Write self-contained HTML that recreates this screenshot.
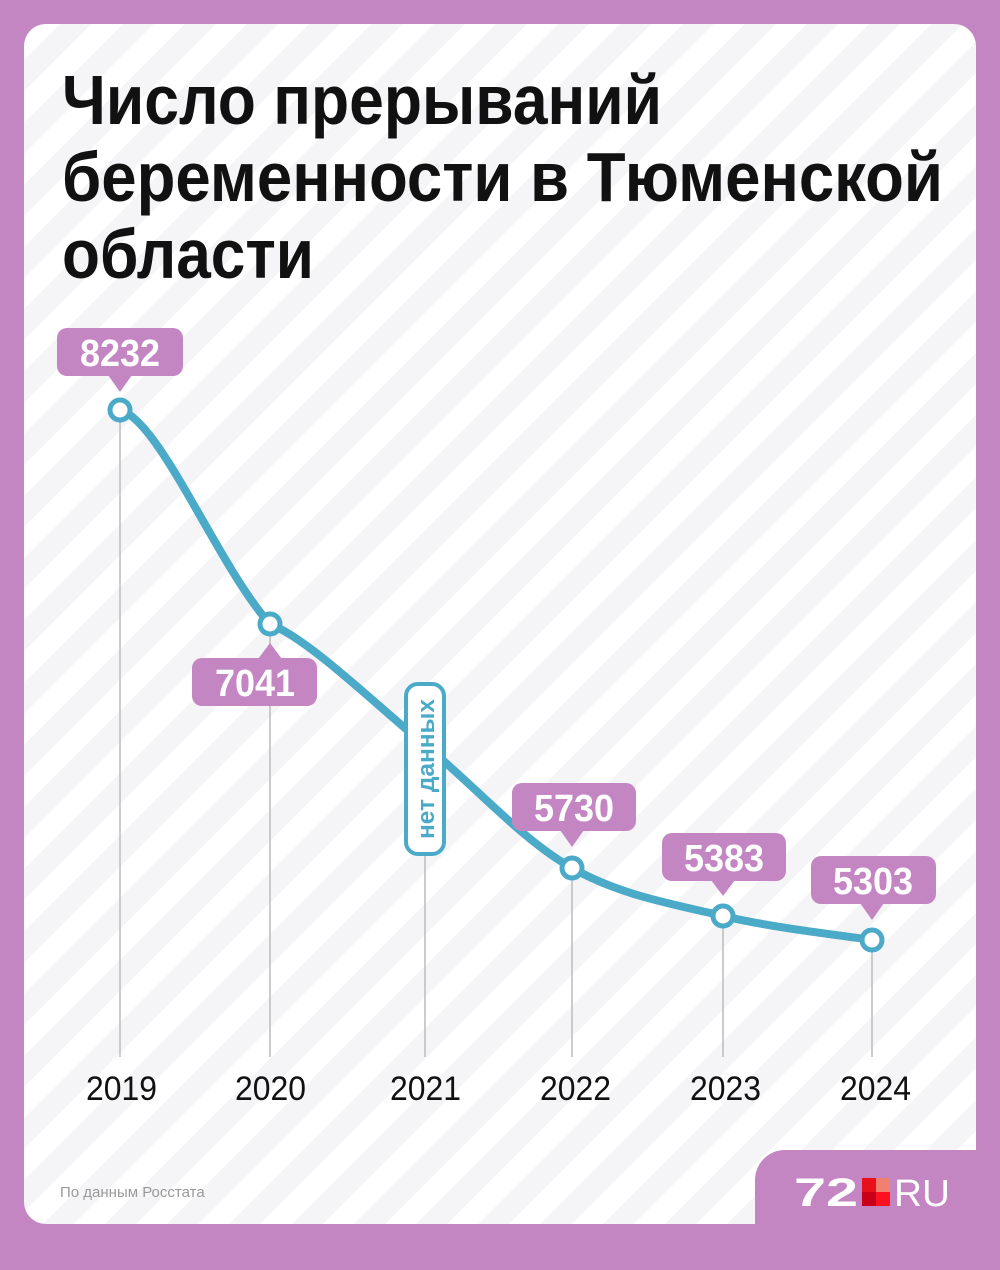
<!DOCTYPE html>
<html><head><meta charset="utf-8"><style>
html,body{margin:0;padding:0}
body{width:1000px;height:1250px;background:#c386c3;position:relative;overflow:hidden;font-family:"Liberation Sans",sans-serif}
.card{position:absolute;left:24px;top:24px;width:952px;height:1200px;border-radius:22px;background:repeating-linear-gradient(-45deg,#ffffff 0 22px,#f5f4f7 22px 44px)}
.tab{position:absolute;left:755px;top:1150px;width:300px;height:120px;background:#c386c3;border-radius:30px 0 0 0}
.src{position:absolute;left:60px;top:1184px;font-size:15px;color:#999}
</style></head><body>
<div class="card"></div>
<div class="tab"></div>
<svg width="1000" height="1250" style="position:absolute;left:0;top:0">
<g fill="#111" font-family="Liberation Sans,sans-serif" font-weight="bold" font-size="70" lengthAdjust="spacingAndGlyphs">
<text x="62" y="124" textLength="600" lengthAdjust="spacingAndGlyphs">Число прерываний</text>
<text x="62" y="201" textLength="881" lengthAdjust="spacingAndGlyphs">беременности в Тюменской</text>
<text x="62" y="278" textLength="252" lengthAdjust="spacingAndGlyphs">области</text>
</g>
<g stroke="#bbb" stroke-width="1.5">
<line x1="120" y1="410" x2="120" y2="1057"/><line x1="270" y1="624" x2="270" y2="1057"/>
<line x1="425" y1="856" x2="425" y2="1057"/><line x1="572" y1="868" x2="572" y2="1057"/>
<line x1="723" y1="916" x2="723" y2="1057"/><line x1="872" y1="940" x2="872" y2="1057"/>
</g>
<path d="M120,410 C160,420 219,568 270,624 C310,640 375,704 425,745 C475,786 522,840 572,868 C622,896 673,904 723,916 C773,928 847,936 872,940" fill="none" stroke="#4aaac8" stroke-width="8" stroke-linecap="round"/>
<g fill="#fff" stroke="#4aaac8" stroke-width="5">
<circle cx="120" cy="410" r="10"/><circle cx="270" cy="624" r="10"/><circle cx="572" cy="868" r="10"/><circle cx="723" cy="916" r="10"/><circle cx="872" cy="940" r="10"/>
</g>
<g fill="#c386c3">
<rect x="57" y="328" width="126" height="48" rx="10"/><polygon points="108,375 132,375 120,392"/>
<rect x="192" y="658" width="125" height="48" rx="10"/><polygon points="258,659 282,659 270,643"/>
<rect x="512" y="783" width="124" height="48" rx="10"/><polygon points="560,830 584,830 572,847"/>
<rect x="662" y="833" width="124" height="48" rx="10"/><polygon points="711,880 735,880 723,896"/>
<rect x="811" y="856" width="125" height="48" rx="10"/><polygon points="860,903 884,903 872,920"/>
</g>
<g fill="#fff" font-family="Liberation Sans,sans-serif" font-weight="bold" font-size="38">
<text x="80" y="366" textLength="80" lengthAdjust="spacingAndGlyphs">8232</text>
<text x="215" y="696" textLength="80" lengthAdjust="spacingAndGlyphs">7041</text>
<text x="534" y="821" textLength="80" lengthAdjust="spacingAndGlyphs">5730</text>
<text x="684" y="871" textLength="80" lengthAdjust="spacingAndGlyphs">5383</text>
<text x="833" y="894" textLength="80" lengthAdjust="spacingAndGlyphs">5303</text>
</g>
<rect x="406" y="684" width="38" height="170" rx="12" fill="#fff" stroke="#4aaac8" stroke-width="4"/>
<text transform="translate(434,839) rotate(-90)" fill="#4aaac8" font-family="Liberation Sans,sans-serif" font-weight="bold" font-size="24" textLength="140" lengthAdjust="spacingAndGlyphs">нет данных</text>
<g fill="#111" font-family="Liberation Sans,sans-serif" font-size="34">
<text x="86" y="1100" textLength="71" lengthAdjust="spacingAndGlyphs">2019</text>
<text x="235" y="1100" textLength="71" lengthAdjust="spacingAndGlyphs">2020</text>
<text x="390" y="1100" textLength="71" lengthAdjust="spacingAndGlyphs">2021</text>
<text x="540" y="1100" textLength="71" lengthAdjust="spacingAndGlyphs">2022</text>
<text x="690" y="1100" textLength="71" lengthAdjust="spacingAndGlyphs">2023</text>
<text x="840" y="1100" textLength="71" lengthAdjust="spacingAndGlyphs">2024</text>
</g>
<text x="794" y="1206" fill="#fff" font-family="Liberation Sans,sans-serif" font-weight="900" font-size="40" textLength="64" lengthAdjust="spacingAndGlyphs">72</text>
<rect x="862" y="1178" width="14" height="14" fill="#e8101a"/><rect x="876" y="1178" width="14" height="14" fill="#f08070"/>
<rect x="862" y="1192" width="14" height="14" fill="#c8001a"/><rect x="876" y="1192" width="14" height="14" fill="#ff1020"/>
<text x="894" y="1206" fill="#fff" font-family="Liberation Sans,sans-serif" font-size="38" textLength="56" lengthAdjust="spacingAndGlyphs">RU</text>
</svg>
<div class="src">По данным Росстата</div>
</body></html>
